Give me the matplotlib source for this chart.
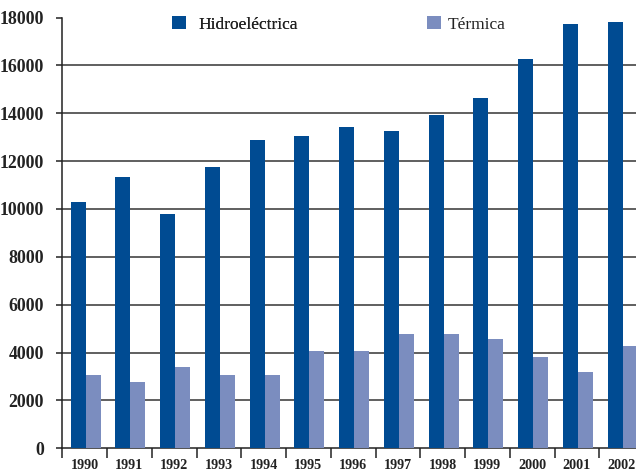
import matplotlib
matplotlib.use("Agg")
import matplotlib.pyplot as plt
import numpy as np
from matplotlib.patches import Patch

years = ["1990", "1991", "1992", "1993", "1994", "1995", "1996",
         "1997", "1998", "1999", "2000", "2001", "2002"]
hidro = [10300, 11340, 9800, 11760, 12890, 13060, 13430,
         13270, 13930, 14650, 16280, 17740, 17820]
termica = [3060, 2790, 3400, 3060, 3060, 4070, 4070,
           4790, 4790, 4570, 3820, 3190, 4280]
yticks = [0, 2000, 4000, 6000, 8000, 10000, 12000, 14000, 16000, 18000]

C_HID = "#004B92"
C_TER = "#7B8DBF"
TXT = "#222222"

plt.rcParams["font.family"] = ["Liberation Serif", "DejaVu Serif"]

W, H = 636, 472
fig = plt.figure(figsize=(W / 100, H / 100), dpi=100)
left, right = 62.3, 644.0
bottom, top = 448.3, 17.5
ax = fig.add_axes([left / W, (H - bottom) / H, (right - left) / W, (bottom - top) / H])

x = np.arange(len(years))
w = 0.335
off = 0.02
ax.bar(x - w / 2 + off, hidro, width=w, color=C_HID, zorder=3, linewidth=0)
ax.bar(x + w / 2 + off, termica, width=w, color=C_TER, zorder=3, linewidth=0)

ax.set_xlim(-0.5, len(years) - 0.5)
ax.set_ylim(0, 18000)

ax.set_yticks(yticks)
ax.set_yticklabels([str(v) for v in yticks], fontsize=12.8, fontweight="bold", color=TXT)
ax.yaxis.grid(True, color="#444444", linewidth=1.2, zorder=0)
for gl, v in zip(ax.get_ygridlines(), yticks):
    if v in (0, 18000):
        gl.set_visible(False)
ax.set_axisbelow(True)
ax.tick_params(axis="y", length=4, width=1.1, color=TXT, pad=9)

ax.set_xticks(np.arange(len(years) + 1) - 0.5)
ax.set_xticklabels([])
ax.set_xticks(x, minor=True)
ax.set_xticklabels(years, minor=True, fontsize=10.2, fontweight="bold", color=TXT)
ax.tick_params(axis="x", which="major", length=7, width=1.1, color=TXT)
ax.tick_params(axis="x", which="minor", length=0, pad=8)

for s in ["top", "right"]:
    ax.spines[s].set_visible(False)
for s in ["left", "bottom"]:
    ax.spines[s].set_color(TXT)
    ax.spines[s].set_linewidth(1.1)

leg1 = fig.legend(handles=[Patch(facecolor=C_HID, label="Hidroeléctrica")],
                  loc="center left", bbox_to_anchor=(172 / W, (H - 24.5) / H),
                  frameon=False, borderpad=0, borderaxespad=0,
                  handlelength=0.8, handleheight=0.8, handletextpad=0.75,
                  prop={"size": 12.5})
for t in leg1.get_texts():
    t.set_color(TXT)
leg2 = fig.legend(handles=[Patch(facecolor=C_TER, label="Térmica")],
                  loc="center left", bbox_to_anchor=(427 / W, (H - 24.5) / H),
                  frameon=False, borderpad=0, borderaxespad=0,
                  handlelength=0.8, handleheight=0.8, handletextpad=0.4,
                  prop={"size": 12.5})
for t in leg2.get_texts():
    t.set_color(TXT)
fig.add_artist(leg1)

fig.savefig("out.png", dpi=100)
